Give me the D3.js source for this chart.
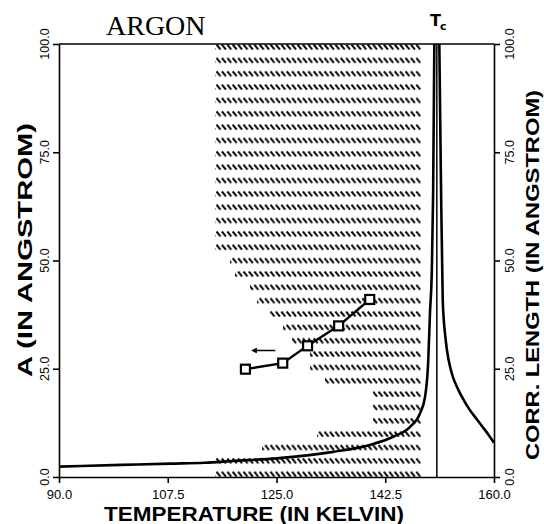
<!DOCTYPE html>
<html><head><meta charset="utf-8">
<script src="https://cdn.jsdelivr.net/npm/d3@7"></script>
<style>body{margin:0;background:#fff}svg{display:block}</style>
</head><body>
<script>
// ---- data ----
const xDomain = [90, 160];
const yDomain = [0, 100];
const xTicks = [90, 107.5, 125, 142.5, 160];
const yTicks = [0, 25, 50, 75, 100];
const Tc = 150.8;
// correlation length curve (below / above Tc)
const corrLeft = [[90,2.4],[100,2.8],[108,3.1],[113.4,3.3],[118,3.7],[125,4.3],[134.1,5.8],[140,7.4],[143.8,9.3],[146.5,11.6],[148.1,14.7],[148.9,18.5],[149.4,26.3],[149.7,37.9],[150.0,48],[150.2,65],[150.4,100]];
const corrRight = [[151.2,100],[151.45,70],[151.75,40.9],[152.2,32],[152.7,27],[153.3,23.5],[154.2,20.3],[155.2,17.6],[156.1,15.5],[157.2,13.4],[158.2,11.5],[159.2,9.6],[160,7.9]];
// A values (squares)
const rangeT = [120, 126, 130, 135, 140];
const rangeA = [24.9, 26.3, 30.3, 34.9, 41.0];
// arrow annotation
const arrowT = [124.8, 121.2];
const arrowA = 29.2;
// hatched region boundary [T, A]
const hatchRegion = [[115.10,100],[148.25,100],[148.25,0],[115.10,0],[115.10,5.3],[122.67,5.3],[122.67,8.3],[131.52,8.3],[131.52,11.4],[140.53,11.4],[140.53,20.7],[132.81,20.7],[132.81,23.8],[130.39,23.8],[130.39,29.9],[127.49,29.9],[127.49,33.0],[126.05,33.0],[126.05,36.1],[123.95,36.1],[123.95,39.3],[121.86,39.3],[121.86,42.3],[120.74,42.3],[120.74,45.4],[118.32,45.4],[118.32,48.5],[117.52,48.5],[117.52,51.5],[115.10,51.5]];

// ---- drawing ----
const W = 544, H = 524;
const svg = d3.select('body').append('svg').attr('width', W).attr('height', H);
const x = d3.scaleLinear().domain(xDomain).range([59, 494]);
const y = d3.scaleLinear().domain(yDomain).range([477, 44]);

const defs = svg.append('defs');
const pat = defs.append('pattern').attr('id', 'hatch').attr('patternUnits', 'userSpaceOnUse')
  .attr('width', 5.4).attr('height', 13.35).attr('x', 0).attr('y', 40.33);
pat.append('line').attr('x1', 0.5).attr('y1', 4.3).attr('x2', 4.5).attr('y2', 9.1)
  .attr('stroke', '#000').attr('stroke-width', 1.9);

svg.append('path')
  .attr('d', d3.line()(hatchRegion.map(([t, a]) => [x(t), y(a)])) + 'Z')
  .attr('fill', 'url(#hatch)');

const sans = 'Liberation Sans, Arial, sans-serif';

// axes
const gB = svg.append('g').attr('transform', `translate(0,${y(0)})`)
  .call(d3.axisBottom(x).tickValues(xTicks).tickSize(6).tickSizeOuter(0).tickPadding(7).tickFormat(d3.format('.1f')));
gB.selectAll('text').attr('font-family', sans).attr('font-size', 13).attr('fill', '#000');
const gL = svg.append('g').attr('transform', `translate(${x(90)},0)`)
  .call(d3.axisLeft(y).tickValues(yTicks).tickSize(6).tickSizeOuter(0).tickFormat(''));
const gR = svg.append('g').attr('transform', `translate(${x(160)},0)`)
  .call(d3.axisRight(y).tickValues(yTicks).tickSize(6).tickSizeOuter(0).tickFormat(''));
[gB, gL, gR].forEach(g => {
  g.select('.domain').attr('stroke', '#000').attr('stroke-width', 1.6);
  g.selectAll('.tick line').attr('stroke', '#000').attr('stroke-width', 1.6);
});
svg.append('line').attr('x1', x(90)).attr('x2', x(160)).attr('y1', y(100)).attr('y2', y(100))
  .attr('stroke', '#000').attr('stroke-width', 1.6);

// rotated tick labels
yTicks.forEach(v => {
  svg.append('text').attr('transform', `translate(49,${y(v)}) rotate(-90)`)
    .attr('text-anchor', 'middle').attr('font-family', sans).attr('font-size', 12.5).text(v.toFixed(1));
  svg.append('text').attr('transform', `translate(514,${y(v)}) rotate(-90)`)
    .attr('text-anchor', 'middle').attr('font-family', sans).attr('font-size', 12.5).text(v.toFixed(1));
});

// Tc line
svg.append('line').attr('x1', x(Tc)).attr('x2', x(Tc)).attr('y1', y(0)).attr('y2', y(100))
  .attr('stroke', '#000').attr('stroke-width', 1.5);

// correlation length curve
const cl = d3.line().x(d => x(d[0])).y(d => y(d[1])).curve(d3.curveMonotoneX);
[corrLeft, corrRight].forEach(br => {
  svg.append('path').attr('d', cl(br)).attr('fill', 'none').attr('stroke', '#000').attr('stroke-width', 2.6);
});

// squares series
const pts = rangeT.map((t, i) => [t, rangeA[i]]);
svg.append('path').attr('d', d3.line().x(d => x(d[0])).y(d => y(d[1]))(pts))
  .attr('fill', 'none').attr('stroke', '#000').attr('stroke-width', 2.4);
svg.selectAll('rect.sq').data(pts).join('rect').attr('class', 'sq')
  .attr('x', d => x(d[0]) - 4.5).attr('y', d => y(d[1]) - 4.5).attr('width', 9).attr('height', 9)
  .attr('fill', '#fff').attr('stroke', '#000').attr('stroke-width', 2.2);

// arrow
const ax0 = x(arrowT[0]), ax1 = x(arrowT[1]), ay = y(arrowA);
svg.append('path').attr('d', `M${ax0},${ay}L${ax1},${ay}M${ax1 + 4},${ay - 2}L${ax1},${ay}L${ax1 + 4},${ay + 2}`)
  .attr('fill', 'none').attr('stroke', '#000').attr('stroke-width', 1.6);

// titles
svg.append('text').attr('x', 106).attr('y', 35).attr('font-family', 'Liberation Serif, Times New Roman, serif')
  .attr('font-size', 28).text('ARGON');
svg.append('text').attr('x', 430).attr('y', 26).attr('font-family', 'DejaVu Sans, sans-serif')
  .attr('font-weight', 'bold').attr('font-size', 16).text('T');
svg.append('text').attr('x', 440).attr('y', 30).attr('font-family', 'DejaVu Sans, sans-serif')
  .attr('font-weight', 'bold').attr('font-size', 11).text('c');

svg.append('text').attr('x', 254).attr('y', 521).attr('text-anchor', 'middle')
  .attr('font-family', sans).attr('font-weight', 'bold').attr('font-size', 21)
  .attr('textLength', 300).attr('lengthAdjust', 'spacingAndGlyphs').text('TEMPERATURE (IN KELVIN)');
svg.append('text').attr('transform', 'translate(32,250) rotate(-90)').attr('text-anchor', 'middle')
  .attr('font-family', sans).attr('font-weight', 'bold').attr('font-size', 20)
  .attr('textLength', 254).attr('lengthAdjust', 'spacingAndGlyphs').text('A (IN ANGSTROM)');
svg.append('text').attr('transform', 'translate(539,275) rotate(-90)').attr('text-anchor', 'middle')
  .attr('font-family', sans).attr('font-weight', 'bold').attr('font-size', 19)
  .attr('textLength', 370).attr('lengthAdjust', 'spacingAndGlyphs').text('CORR. LENGTH (IN ANGSTROM)');
</script>
</body></html>
